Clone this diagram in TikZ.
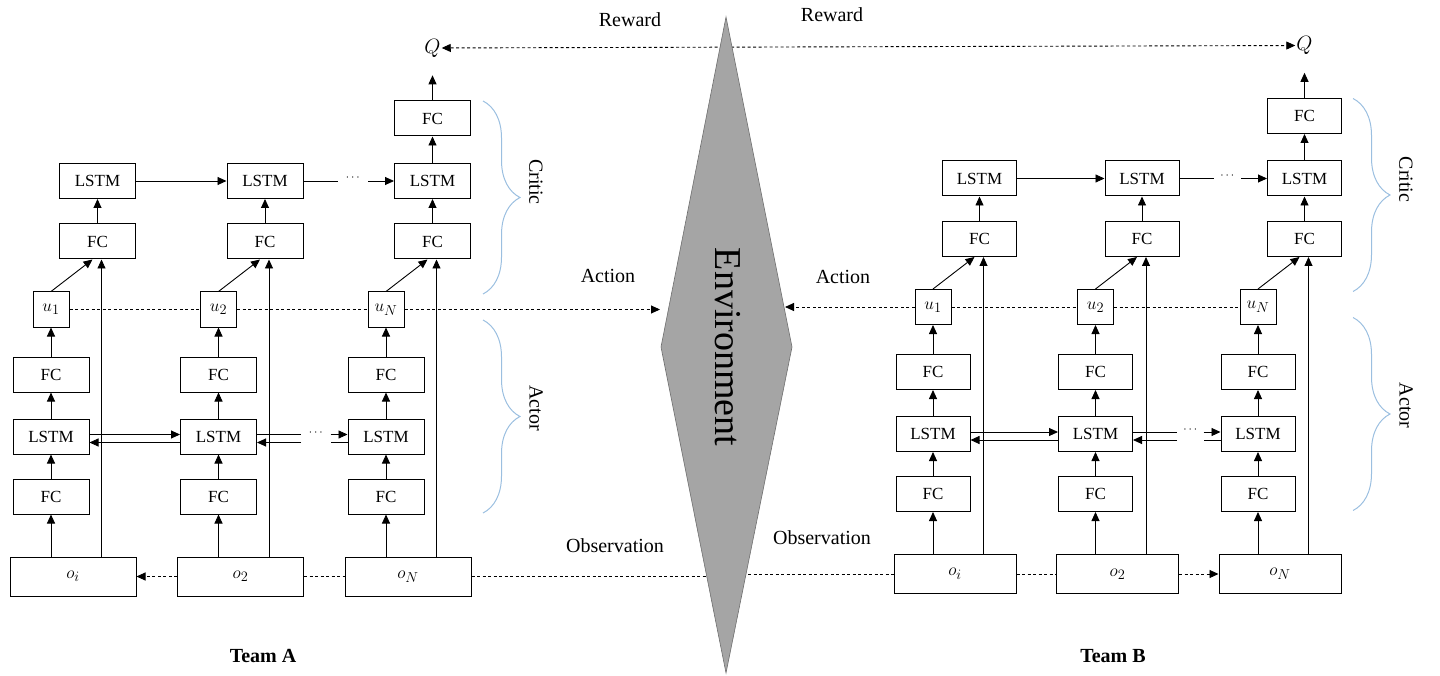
\documentclass[tikz,border=0pt]{standalone}
\usepackage{fontspec}
\setmainfont{Liberation Serif}
\usetikzlibrary{arrows.meta,calc,decorations.pathreplacing}

\definecolor{envfill}{HTML}{A5A5A5}
\definecolor{envline}{HTML}{6E6E6E}
\definecolor{bracecol}{HTML}{9BBFE0}

\tikzset{
  netbox/.style={draw, line width=1pt, minimum height=35pt, inner sep=0pt,
    font=\fontsize{17}{19}\selectfont},
  mathbox/.style={netbox, font=\fontsize{19}{21}\selectfont},
  ubox/.style={mathbox, minimum width=36pt},
  obox/.style={mathbox, minimum height=39pt},
  arr/.style={-{Triangle[length=9pt,width=8pt]}, line width=0.9pt},
  biarr/.style={{Triangle[length=9pt,width=8pt]}-{Triangle[length=9pt,width=8pt]}, line width=0.9pt},
  dashline/.style={line width=0.9pt, dash pattern=on 3pt off 2.5pt},
  dots/.style={font=\fontsize{12}{14}\selectfont, inner sep=0pt},
  lbl/.style={font=\fontsize{20}{22}\selectfont},
  teamlbl/.style={font=\bfseries\fontsize{20}{22}\selectfont},
  sidelbl/.style={lbl, rotate=-90},
  teambrace/.style={bracecol, line width=1pt, decorate, decoration={brace, amplitude=37pt}}
}

\begin{document}
\begin{tikzpicture}[x=1pt, y=-1pt]
  \useasboundingbox (0,0) rectangle (1440,676);

  % corners of the environment
  \coordinate (envT) at (726,17);
  \coordinate (envL) at (661,347);
  \coordinate (envR) at (792,347);
  \coordinate (envB) at (726,673);

  % === TEAMS A and B ===
  \foreach \tm/\x/\y/\dx/\w/\ow/\bx in {A/51/0/167.5/76/126/483, B/933/-2.5/162.5/74/122/1353}{
    \foreach \i/\olab/\ulab in {1/i/1, 2/2/2, 3/N/N}{
      \pgfmathsetmacro{\ax}{\x+(\i-1)*\dx}
      \pgfmathsetmacro{\cx}{\ax+46.5}
      % actor column
      \node[obox, minimum width=\ow pt] (\tm o\i) at ({\ax+22},{576.5+\y}) {$o_{\olab}$};
      \node[netbox, minimum width=\w pt] (\tm fa\i) at (\ax,{496.5+\y}) {FC};
      \node[netbox, minimum width=\w pt] (\tm la\i) at (\ax,{436.5+\y}) {LSTM};
      \node[netbox, minimum width=\w pt] (\tm fb\i) at (\ax,{374.5+\y}) {FC};
      \node[ubox] (\tm u\i) at (\ax,{309.5+\y}) {$u_{\ulab}$};
      % critic column
      \node[netbox, minimum width=\w pt] (\tm fc\i) at (\cx,{241.5+\y}) {FC};
      \node[netbox, minimum width=\w pt] (\tm lc\i) at (\cx,{181+\y}) {LSTM};
      \coordinate (\tm v\i) at ([xshift=4pt]\tm fc\i.south);

      \draw[arr] (\tm fa\i.south |- \tm o\i.north) -- (\tm fa\i.south);
      \draw[arr] (\tm fa\i) -- (\tm la\i);
      \draw[arr] (\tm la\i) -- (\tm fb\i);
      \draw[arr] (\tm fb\i) -- (\tm u\i);
      \draw[arr] (\tm u\i.north) -- ([xshift=-5pt]\tm fc\i.south);
      \draw[arr] (\tm v\i |- \tm o\i.north) -- (\tm v\i);
      \draw[arr] (\tm fc\i) -- (\tm lc\i);
    }

    % output of the critic
    \node[netbox, minimum width=\w pt] (\tm top) at ($(\tm lc3)+(0,-62.5)$) {FC};
    \node[font=\fontsize{20}{22}\selectfont, inner sep=1pt] (\tm Q) at ($(\tm top)+(0,-70.5)$) {$Q$};
    \draw[arr] (\tm lc3) -- (\tm top);
    \draw[arr, shorten >=17pt] (\tm top) -- (\tm Q);

    % recurrent links, critic
    \draw[arr] (\tm lc1) -- (\tm lc2);
    \coordinate (\tm cl) at ($(\tm lc2.east)+(34,0)$);
    \coordinate (\tm cr) at ($(\tm lc3.west)+(-26,0)$);
    \node[dots] (\tm cdots) at ($(\tm cl)!0.5!(\tm cr)+(0,-3)$) {$\cdots$};
    \draw (\tm lc2) -- (\tm cl);
    \draw[arr] (\tm cr) -- (\tm lc3);

    % recurrent links, actor (both ways)
    \draw[arr] ([yshift=2pt]\tm la1.east) -- ([yshift=2pt]\tm la2.west);
    \draw[arr] ([yshift=-6pt]\tm la2.west) -- ([yshift=-6pt]\tm la1.east);
    \coordinate (\tm al) at ($(\tm la2.east)+(44,0)$);
    \coordinate (\tm ar) at ($(\tm la3.west)+(-17,0)$);
    \node[dots] (\tm adots) at ($(\tm al)!0.5!(\tm ar)+(0,-4)$) {$\cdots$};
    \draw ([yshift=2pt]\tm la2.east) -- ([yshift=2pt]\tm al);
    \draw[arr] ([yshift=-6pt]\tm al) -- ([yshift=-6pt]\tm la2.east);
    \draw[arr] ([yshift=2pt]\tm ar) -- ([yshift=2pt]\tm la3.west);
    \draw ([yshift=-6pt]\tm la3.west) -- ([yshift=-6pt]\tm ar);

    % actions shared along the team
    \draw[dashline] (\tm u1) -- (\tm u2);
    \draw[dashline] (\tm u2) -- (\tm u3);

    % braces
    \draw[teambrace] (\bx,{101+\y}) -- (\bx,{294+\y});
    \node[sidelbl] (\tm critic) at ({\bx+53},{182+\y}) {Critic};
    \draw[teambrace] (\bx,{320+\y}) -- (\bx,{513+\y});
    \node[sidelbl] (\tm actor) at ({\bx+53},{408+\y}) {Actor};
  }

  % observation chains
  \draw[dashline, arr] (Ao2) -- (Ao1);
  \draw[dashline] (Ao2) -- (Ao3);
  \draw[dashline] (Bo1) -- (Bo2);
  \draw[dashline, arr] (Bo2) -- (Bo3);

  % === LINKS TO THE ENVIRONMENT ===
  \coordinate (obsA) at (726,576.5);
  \coordinate (obsB) at (726,574);
  \coordinate (actA) at (660,309.5);
  \coordinate (actB) at (785,307);
  \draw[dashline] (Ao3) -- (obsA);
  \draw[dashline] (obsB) -- (Bo1);
  \draw[dashline, biarr] (AQ) -- (BQ);

  \fill[envfill, draw=envline, line width=0.6pt] (envT) -- (envR) -- (envB) -- (envL) -- cycle;
  \node[rotate=-90, font=\fontsize{38}{40}\selectfont] (envtext) at (728,347) {Environment};

  \draw[dashline, arr] (Au3) -- (actA);
  \draw[dashline, arr] (Bu1) -- (actB);

  % labels
  \node[lbl] (rewardA) at (630,20) {Reward};
  \node[lbl] (rewardB) at (832,15) {Reward};
  \node[lbl] (actionA) at (608,276) {Action};
  \node[lbl] (actionB) at (843,277) {Action};
  \node[lbl] (obsvA) at (615,546) {Observation};
  \node[lbl] (obsvB) at (822,538) {Observation};
  \node[teamlbl] (teamA) at (263,656) {Team A};
  \node[teamlbl] (teamB) at (1113,656) {Team B};
\end{tikzpicture}
\end{document}
